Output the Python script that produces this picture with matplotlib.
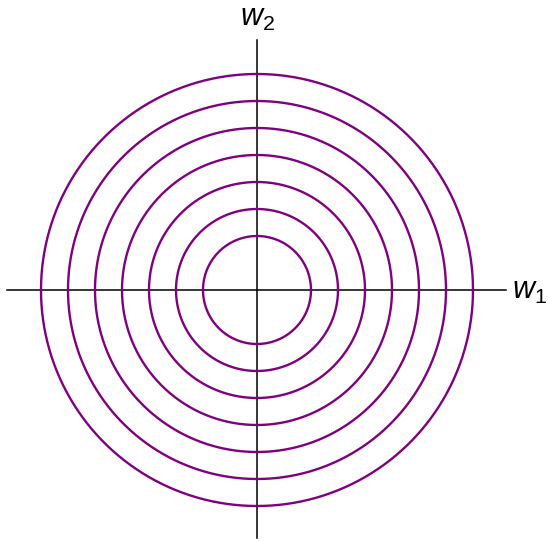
import matplotlib
matplotlib.use("Agg")
import matplotlib.pyplot as plt
import numpy as np

radii = [2, 3, 4, 5, 6, 7, 8]
axis_extent_x = (-9.26, 9.22)
axis_extent_y = (-9.19, 9.26)
labels = ["$w_1$", "$w_2$"]

plt.rcParams['mathtext.fontset'] = 'custom'
plt.rcParams['mathtext.rm'] = 'Liberation Sans'
plt.rcParams['mathtext.it'] = 'Liberation Sans:italic'

fig = plt.figure(figsize=(5.48, 5.41), dpi=100)
ax = fig.add_axes([0, 0, 1, 1])
ax.set_xlim(-257/27, (548-257)/27)
ax.set_ylim(-251/27, 290/27)
ax.axis('off')

ax.plot(axis_extent_x, [0, 0], color='black', lw=1.1, zorder=1)
ax.plot([0, 0], axis_extent_y, color='black', lw=1.1, zorder=1)

t = np.linspace(0, 2*np.pi, 721)
for r in radii:
    ax.plot(r*np.cos(t), r*np.sin(t), color='#800080', lw=1.7, zorder=2)

ax.text(10.1, -0.05, labels[0], fontsize=22, ha='center', va='center')
ax.text(0.0, 10.05, labels[1], fontsize=22, ha='center', va='center')

fig.savefig("out.png", dpi=100)
